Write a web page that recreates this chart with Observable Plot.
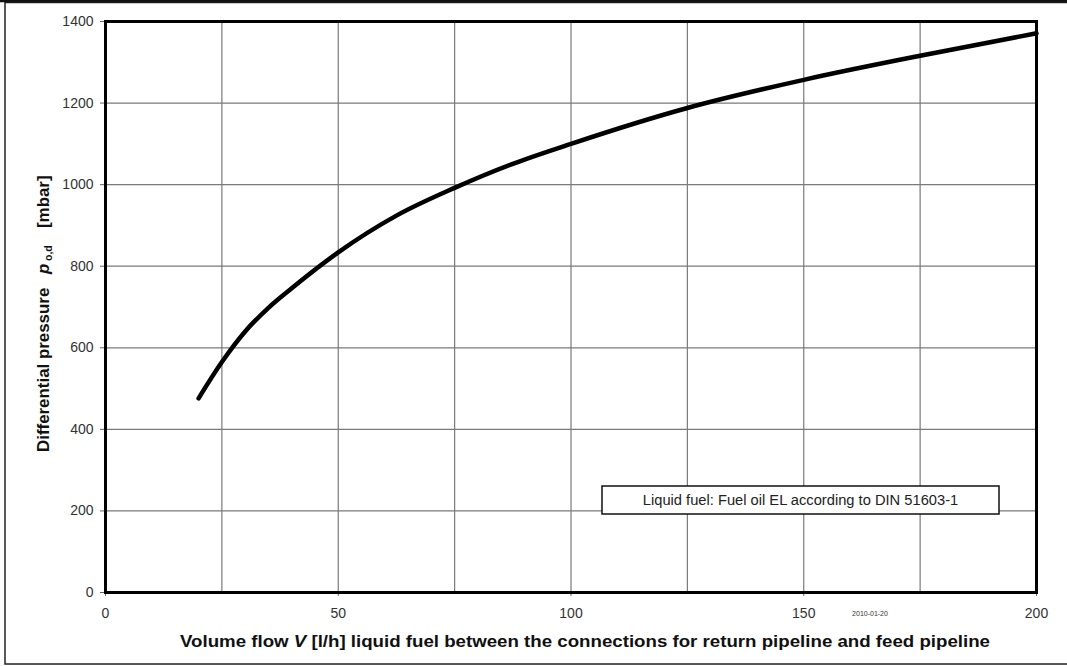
<!DOCTYPE html>
<html>
<head>
<meta charset="utf-8">
<script src="https://cdn.jsdelivr.net/npm/d3@7"></script>
<script src="https://cdn.jsdelivr.net/npm/@observablehq/plot@0.6"></script>
<style>
  html, body { margin: 0; padding: 0; background: #fff; }
  svg { display: block; }
</style>
</head>
<body>
<div id="chart"></div>
<script>
// Volume flow [l/h]
const flow = [20, 25, 30, 35, 40, 50, 62.5, 75, 87.5, 100, 125, 150, 175, 200];
// Differential pressure [mbar]
const pressure = [476, 565, 640, 698, 746, 834, 924, 992, 1051, 1100, 1188, 1257, 1316, 1371];

const xTicks = [0, 50, 100, 150, 200];
const xGrid = [0, 25, 50, 75, 100, 125, 150, 175, 200];
const yTicks = [0, 200, 400, 600, 800, 1000, 1200, 1400];

const xLabel = "Volume flow ";
const xLabelItalic = "V";
const xLabelRest = " [l/h] liquid fuel between the connections for return pipeline and feed pipeline";
const yLabelMain = "Differential pressure";
const yLabelSym = "p";
const yLabelSub = "o,d";
const yLabelUnit = "[mbar]";
const legendText = "Liquid fuel: Fuel oil EL according to DIN 51603-1";
const dateText = "2010-01-20";

const data = flow.map((f, i) => ({flow: f, pressure: pressure[i]}));

const W = 1067, H = 666;
const plot = Plot.plot({
  width: W,
  height: H,
  marginLeft: 105,
  marginRight: 31,
  marginTop: 21,
  marginBottom: 74,
  style: {fontFamily: "'Liberation Sans', Arial, sans-serif", fontSize: "14px", color: "#333", background: "#fff"},
  x: {domain: [0, 200], ticks: xTicks, label: null},
  y: {domain: [0, 1400], ticks: yTicks, label: null},
  marks: [
    Plot.gridX(xGrid, {stroke: "#7a7a7a", strokeOpacity: 1, strokeWidth: 1.2}),
    Plot.gridY(yTicks, {stroke: "#7a7a7a", strokeOpacity: 1, strokeWidth: 1.2}),
    Plot.axisX(xTicks, {tickSize: 4, tickPadding: 12, fontSize: 14, tickFormat: d => String(d), fill: "#333", stroke: "#666"}),
    Plot.axisY(yTicks, {tickSize: 5, tickPadding: 7, fontSize: 14, tickFormat: d => String(d), fill: "#333", stroke: "#666"}),
    Plot.line(data, {x: "flow", y: "pressure", curve: "monotone-x", stroke: "#000", strokeWidth: 4.5, strokeLinecap: "round"}),
    Plot.frame({stroke: "#000", strokeWidth: 3})
  ]
});

const svg = d3.select(plot);
const font = "'Liberation Sans', Arial, sans-serif";

// outer border
svg.append("rect").attr("x", 5).attr("y", 2.5).attr("width", 1070).attr("height", 661.5)
  .attr("fill", "none").attr("stroke", "#222").attr("stroke-width", 1.5);
svg.append("line").attr("x1", 0).attr("x2", W).attr("y1", 1).attr("y2", 1)
  .attr("stroke", "#111").attr("stroke-width", 2.5);

// x axis title
const xt = svg.append("text")
  .attr("x", 585)
  .attr("y", 647)
  .attr("text-anchor", "middle")
  .attr("textLength", 810).attr("lengthAdjust", "spacingAndGlyphs")
  .attr("font-family", font).attr("font-size", 17).attr("font-weight", "bold").attr("fill", "#111");
xt.append("tspan").text(xLabel);
xt.append("tspan").attr("font-style", "italic").text(xLabelItalic);
xt.append("tspan").text(xLabelRest);

// y axis title (rotated)
const yt = svg.append("g").attr("transform", `translate(49, 452) rotate(-90)`)
  .attr("text-anchor", "start")
  .attr("font-family", font).attr("font-size", 16.9).attr("font-weight", "bold").attr("fill", "#111");
yt.append("text").attr("text-anchor", "start").attr("x", 0).attr("y", 0).text(yLabelMain);
yt.append("text").attr("text-anchor", "start").attr("x", 178).attr("y", 0).attr("font-style", "italic").text(yLabelSym);
yt.append("text").attr("text-anchor", "start").attr("x", 191).attr("y", 3).attr("font-size", 10.5).text(yLabelSub);
yt.append("text").attr("text-anchor", "start").attr("x", 224).attr("y", 0).text(yLabelUnit);

// legend box
svg.append("rect").attr("x", 602).attr("y", 486).attr("width", 397).attr("height", 28)
  .attr("fill", "#fff").attr("stroke", "#111").attr("stroke-width", 1.5);
svg.append("text").attr("x", 800.5).attr("y", 505).attr("text-anchor", "middle")
  .attr("font-family", font).attr("font-size", 14.7).attr("fill", "#222").text(legendText);

// date stamp
svg.append("text").attr("x", 870).attr("y", 616).attr("text-anchor", "middle")
  .attr("font-family", font).attr("font-size", 7).attr("fill", "#333").text(dateText);

document.getElementById("chart").appendChild(plot);
</script>
</body>
</html>
